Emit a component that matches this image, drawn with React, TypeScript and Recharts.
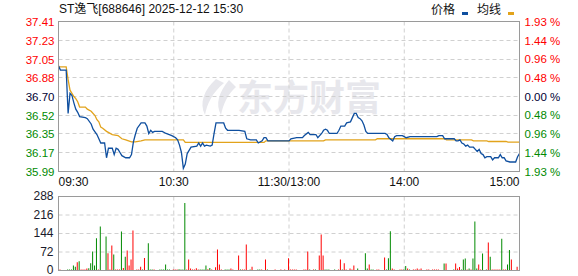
import { LineChart, Line, BarChart, Bar, Cell, XAxis, YAxis, CartesianGrid } from 'recharts';

const title = 'ST逸飞[688646] 2025-12-12 15:30';
const legendNames = ['价格', '均线'];
const watermark = '东方财富';
const preClose = 36.7;

const timeTicks = [0, 60, 120, 180, 240];
const timeLabels = ['09:30', '10:30', '11:30/13:00', '14:00', '15:00'];
const priceTicks = [37.41, 37.23, 37.05, 36.88, 36.7, 36.52, 36.35, 36.17, 35.99];
const pctTicks = [1.93, 1.44, 0.96, 0.48, 0, -0.48, -0.96, -1.44, -1.93];
const volTicks = [0, 72, 144, 216, 288];

// [minute since 09:30, price]
const priceLine: [number, number][] = [
  [0, 36.99], [1, 36.95], [4, 36.95], [5, 36.54], [6, 36.73], [7, 36.71], [8, 36.64], [9, 36.58],
  [10, 36.55], [11, 36.51], [14, 36.5], [15, 36.49], [17, 36.44], [18, 36.39], [20, 36.34], [21, 36.3],
  [22, 36.26], [24, 36.26], [25, 36.12], [26, 36.21], [28, 36.21], [29, 36.15], [30, 36.21], [31, 36.2],
  [32, 36.17], [33, 36.14], [35, 36.12], [37, 36.12], [38, 36.15], [39, 36.27], [40, 36.34], [41, 36.4],
  [43, 36.45], [45, 36.45], [46, 36.42], [47, 36.35], [48, 36.38], [49, 36.36], [50, 36.37], [54, 36.37],
  [56, 36.35], [59, 36.33], [61, 36.31], [62, 36.29], [63, 36.24], [64, 36.17], [65, 36.02], [66, 36.06],
  [67, 36.16], [68, 36.19], [69, 36.22], [72, 36.23], [73, 36.26], [74, 36.23], [75, 36.26], [76, 36.23],
  [77, 36.24], [79, 36.23], [80, 36.24], [81, 36.35], [82, 36.45], [86, 36.45], [87, 36.4], [88, 36.38],
  [94, 36.38], [97, 36.37], [98, 36.3], [100, 36.29], [103, 36.29], [104, 36.26], [106, 36.28], [107, 36.31],
  [108, 36.31], [109, 36.28], [120, 36.28], [121, 36.3], [124, 36.31], [127, 36.31], [128, 36.33], [130, 36.36],
  [131, 36.34], [134, 36.34], [135, 36.31], [137, 36.35], [138, 36.38], [139, 36.39], [140, 36.38], [141, 36.35],
  [145, 36.35], [146, 36.38], [147, 36.42], [149, 36.42], [150, 36.45], [152, 36.46], [153, 36.5], [154, 36.54],
  [155, 36.54], [156, 36.5], [157, 36.49], [158, 36.47], [159, 36.43], [160, 36.37], [161, 36.35], [170, 36.35],
  [171, 36.34], [172, 36.31], [174, 36.28], [175, 36.32], [176, 36.33], [179, 36.33], [180, 36.32], [181, 36.31],
  [183, 36.32], [197, 36.32], [198, 36.33], [200, 36.33], [201, 36.3], [206, 36.3], [207, 36.28], [208, 36.28],
  [209, 36.29], [210, 36.26], [211, 36.25], [212, 36.23], [213, 36.24], [214, 36.22], [216, 36.22], [217, 36.2],
  [218, 36.18], [219, 36.2], [220, 36.16], [221, 36.15], [222, 36.12], [223, 36.13], [225, 36.13], [226, 36.1],
  [227, 36.12], [229, 36.12], [230, 36.15], [231, 36.12], [232, 36.12], [233, 36.09], [235, 36.08], [238, 36.08],
  [239, 36.13], [240, 36.16],
];

const avgLine: [number, number][] = [
  [0, 36.98], [4, 36.98], [5, 36.86], [6, 36.76], [8, 36.7], [9, 36.68], [10, 36.65], [11, 36.6],
  [14, 36.6], [15, 36.58], [17, 36.56], [19, 36.52], [20, 36.48], [21, 36.46], [22, 36.41], [23, 36.4],
  [25, 36.37], [28, 36.34], [31, 36.33], [33, 36.3], [35, 36.29], [38, 36.27], [40, 36.27], [43, 36.28],
  [45, 36.29], [65, 36.29], [66, 36.265], [107, 36.265], [108, 36.28], [138, 36.28], [139, 36.29], [165, 36.29],
  [166, 36.3], [201, 36.3], [202, 36.29], [215, 36.29], [216, 36.28], [223, 36.28], [224, 36.274], [233, 36.274],
  [234, 36.268], [240, 36.268],
];

// [minute, volume]
const volRed: [number, number][] = [
  [1, 4], [10, 32], [12, 4], [13, 4], [14, 4], [15, 8], [21, 4], [26, 67], [27, 4], [28, 97], [30, 4], [31, 4],
  [32, 4], [34, 10], [36, 78], [37, 19], [38, 43], [39, 156], [41, 4], [42, 4], [43, 15], [45, 49], [50, 4],
  [60, 4], [61, 4], [62, 4], [67, 4], [68, 43], [69, 8], [70, 4], [71, 4], [72, 9], [73, 4], [78, 5], [80, 4],
  [82, 13], [83, 82], [84, 23], [85, 4], [90, 8], [91, 4], [94, 58], [96, 4], [97, 4], [98, 101], [101, 15],
  [106, 4], [108, 43], [113, 4], [116, 4], [118, 4], [120, 48], [121, 4], [122, 4], [123, 4], [124, 4], [128, 4],
  [129, 4], [130, 74], [133, 4], [136, 58], [137, 140], [138, 58], [146, 4], [147, 43], [149, 28], [150, 4],
  [152, 8], [153, 4], [154, 19], [162, 23], [166, 4], [167, 4], [170, 51], [174, 8], [175, 4], [178, 4], [179, 4],
  [182, 8], [185, 4], [186, 4], [187, 8], [188, 4], [189, 8], [192, 4], [193, 4], [195, 4], [196, 4], [197, 4],
  [198, 4], [202, 27], [207, 27], [208, 8], [209, 14], [213, 4], [215, 4], [219, 23], [220, 4], [224, 109],
  [226, 4], [227, 4], [228, 4], [229, 4], [230, 4], [232, 4], [233, 4], [236, 43], [239, 15],
];

const volGreen: [number, number][] = [
  [5, 4], [6, 4], [7, 4], [8, 19], [9, 15], [11, 36], [16, 9], [17, 28], [18, 74], [19, 19], [20, 126], [22, 171],
  [25, 132], [29, 62], [33, 152], [35, 54], [44, 4], [47, 106], [48, 4], [49, 4], [53, 4], [54, 4], [55, 4],
  [56, 23], [57, 4], [58, 4], [63, 5], [64, 4], [65, 4], [66, 263], [74, 4], [75, 4], [76, 4], [77, 19], [79, 10],
  [87, 4], [88, 4], [89, 4], [95, 4], [100, 4], [104, 4], [105, 4], [109, 4], [131, 4], [134, 4], [139, 4],
  [140, 4], [141, 4], [144, 4], [148, 4], [156, 8], [160, 67], [161, 8], [163, 4], [164, 4], [171, 4], [172, 48],
  [173, 153], [180, 4], [181, 18], [183, 4], [201, 27], [206, 4], [210, 4], [211, 43], [212, 47], [214, 8],
  [216, 47], [217, 191], [218, 8], [221, 66], [223, 4], [225, 54], [231, 124], [234, 23], [235, 80],
];

const RED = '#ff0000';
const GREEN = '#008a00';
const DARK = '#000033';
const PRICE_COLOR = '#0f4f9f';
const AVG_COLOR = '#e2a31b';
const GRID = '#d0d0d0';
const BORDER = '#9a9a9a';
const FONT = "'Liberation Sans', 'Noto Sans CJK SC', sans-serif";

const priceData = priceLine.map(([m, p]) => ({ m, p }));
const avgData = avgLine.map(([m, p]) => ({ m, p }));
const volData = [
  ...volRed.map(([m, v]) => ({ m, v, up: true })),
  ...volGreen.map(([m, v]) => ({ m, v, up: false })),
].sort((a, b) => a.m - b.m);

const signColor = (d: number) => (d > 0 ? RED : d < 0 ? GREEN : DARK);

function PriceTick({ x, y, payload }: any) {
  return (
    <text x={x} y={y} dy="0.36em" textAnchor="end" fontSize={11.5} fontFamily={FONT} fill={signColor(payload.value - preClose)}>
      {payload.value.toFixed(2)}
    </text>
  );
}

function PctTick({ x, y, payload }: any) {
  return (
    <text x={x} y={y} dy="0.36em" textAnchor="start" fontSize={11.5} fontFamily={FONT} fill={signColor(payload.value)}>
      {Math.abs(payload.value).toFixed(2) + ' %'}
    </text>
  );
}

function TimeTick({ x, y, payload }: any) {
  const i = timeTicks.indexOf(payload.value);
  const anchor = i === 0 ? 'start' : i === timeTicks.length - 1 ? 'end' : 'middle';
  return (
    <text x={x} y={y + 14} textAnchor={anchor} fontSize={12} fontFamily={FONT} fill="#111">
      {timeLabels[i]}
    </text>
  );
}

function VolTick({ x, y, payload }: any) {
  return (
    <text x={x} y={y} dy="0.3em" textAnchor="end" fontSize={12} fontFamily={FONT} fill="#1a1a2a">
      {payload.value}
    </text>
  );
}

export default function App() {
  return (
    <div style={{ position: 'relative', width: 578, height: 276, background: '#fff' }}>
      <style>{'body{margin:0}'}</style>
      <svg width={578} height={276} style={{ position: 'absolute', left: 0, top: 0 }}>
        <path d="M216 79 C 204 90, 199 103, 205 115 C 207 104, 212 93, 224 83 Z" fill="#e7e7ec" />
        <path d="M229 80 C 219 92, 215 104, 221 115 C 223 104, 228 94, 236 87 Z" fill="#e7e7ec" />
        <text x={237} y={111} fontSize={36} fontWeight={700} fill="#e7e7ec" fontFamily="'Noto Sans CJK SC'">
          {watermark}
        </text>
      </svg>

      <div style={{ position: 'absolute', left: 0, top: 0 }}>
        <LineChart width={578} height={200} margin={{ top: 21.5, right: 0.5, bottom: 0, left: 0.5 }}>
          <CartesianGrid yAxisId="price" stroke={GRID} strokeDasharray="4 3" />
          <XAxis
            dataKey="m"
            type="number"
            domain={[0, 240]}
            ticks={timeTicks}
            height={28.5}
            axisLine={false}
            tickLine={false}
            tickSize={0}
            tickMargin={0}
            tick={<TimeTick />}
            interval={0}
          />
          <YAxis
            yAxisId="price"
            type="number"
            domain={[35.99, 37.41]}
            ticks={priceTicks}
            width={58}
            axisLine={false}
            tickLine={false}
            tickSize={0}
            tickMargin={4}
            tick={<PriceTick />}
            interval={0}
            allowDataOverflow
          />
          <YAxis
            yAxisId="pct"
            orientation="right"
            type="number"
            domain={[-1.93, 1.93]}
            ticks={pctTicks}
            width={58}
            axisLine={false}
            tickLine={false}
            tickSize={0}
            tickMargin={5}
            tick={<PctTick />}
            interval={0}
            allowDataOverflow
          />
          <Line yAxisId="price" data={avgData} dataKey="p" type="linear" stroke={AVG_COLOR} strokeWidth={1.3} dot={false} isAnimationActive={false} />
          <Line yAxisId="price" data={priceData} dataKey="p" type="linear" stroke={PRICE_COLOR} strokeWidth={1.3} dot={false} isAnimationActive={false} />
        </LineChart>
      </div>

      <div style={{ position: 'absolute', left: 0, top: 0 }}>
        <BarChart width={578} height={276} data={volData} margin={{ top: 196.5, right: 58.5, bottom: 5.5, left: 0.5 }}>
          <CartesianGrid stroke={GRID} strokeDasharray="4 3" />
          <XAxis dataKey="m" type="number" domain={[0, 240]} ticks={timeTicks} hide />
          <YAxis
            type="number"
            domain={[0, 288]}
            ticks={volTicks}
            width={58}
            axisLine={false}
            tickLine={false}
            tickSize={0}
            tickMargin={5}
            tick={<VolTick />}
            interval={0}
          />
          <Bar dataKey="v" barSize={1} isAnimationActive={false}>
            {volData.map((d, i) => (
              <Cell key={i} fill={d.up ? RED : GREEN} />
            ))}
          </Bar>
        </BarChart>
      </div>

      <svg width={578} height={276} style={{ position: 'absolute', left: 0, top: 0, pointerEvents: 'none' }}>
        <rect x={58.5} y={21.5} width={461} height={150} fill="none" stroke={BORDER} />
        <rect x={58.5} y={196.5} width={461} height={74} fill="none" stroke={BORDER} />
        <text x={59} y={13} fontSize={12} fontFamily={FONT} fill="#111">
          {title}
        </text>
        <text x={431} y={14} fontSize={12} fontFamily={FONT} fill="#111">
          {legendNames[0]}
        </text>
        <rect x={462} y={12} width={6} height={3} fill={PRICE_COLOR} />
        <text x={477} y={14} fontSize={12} fontFamily={FONT} fill="#111">
          {legendNames[1]}
        </text>
        <rect x={508} y={12} width={6} height={3} fill={AVG_COLOR} />
      </svg>
    </div>
  );
}
